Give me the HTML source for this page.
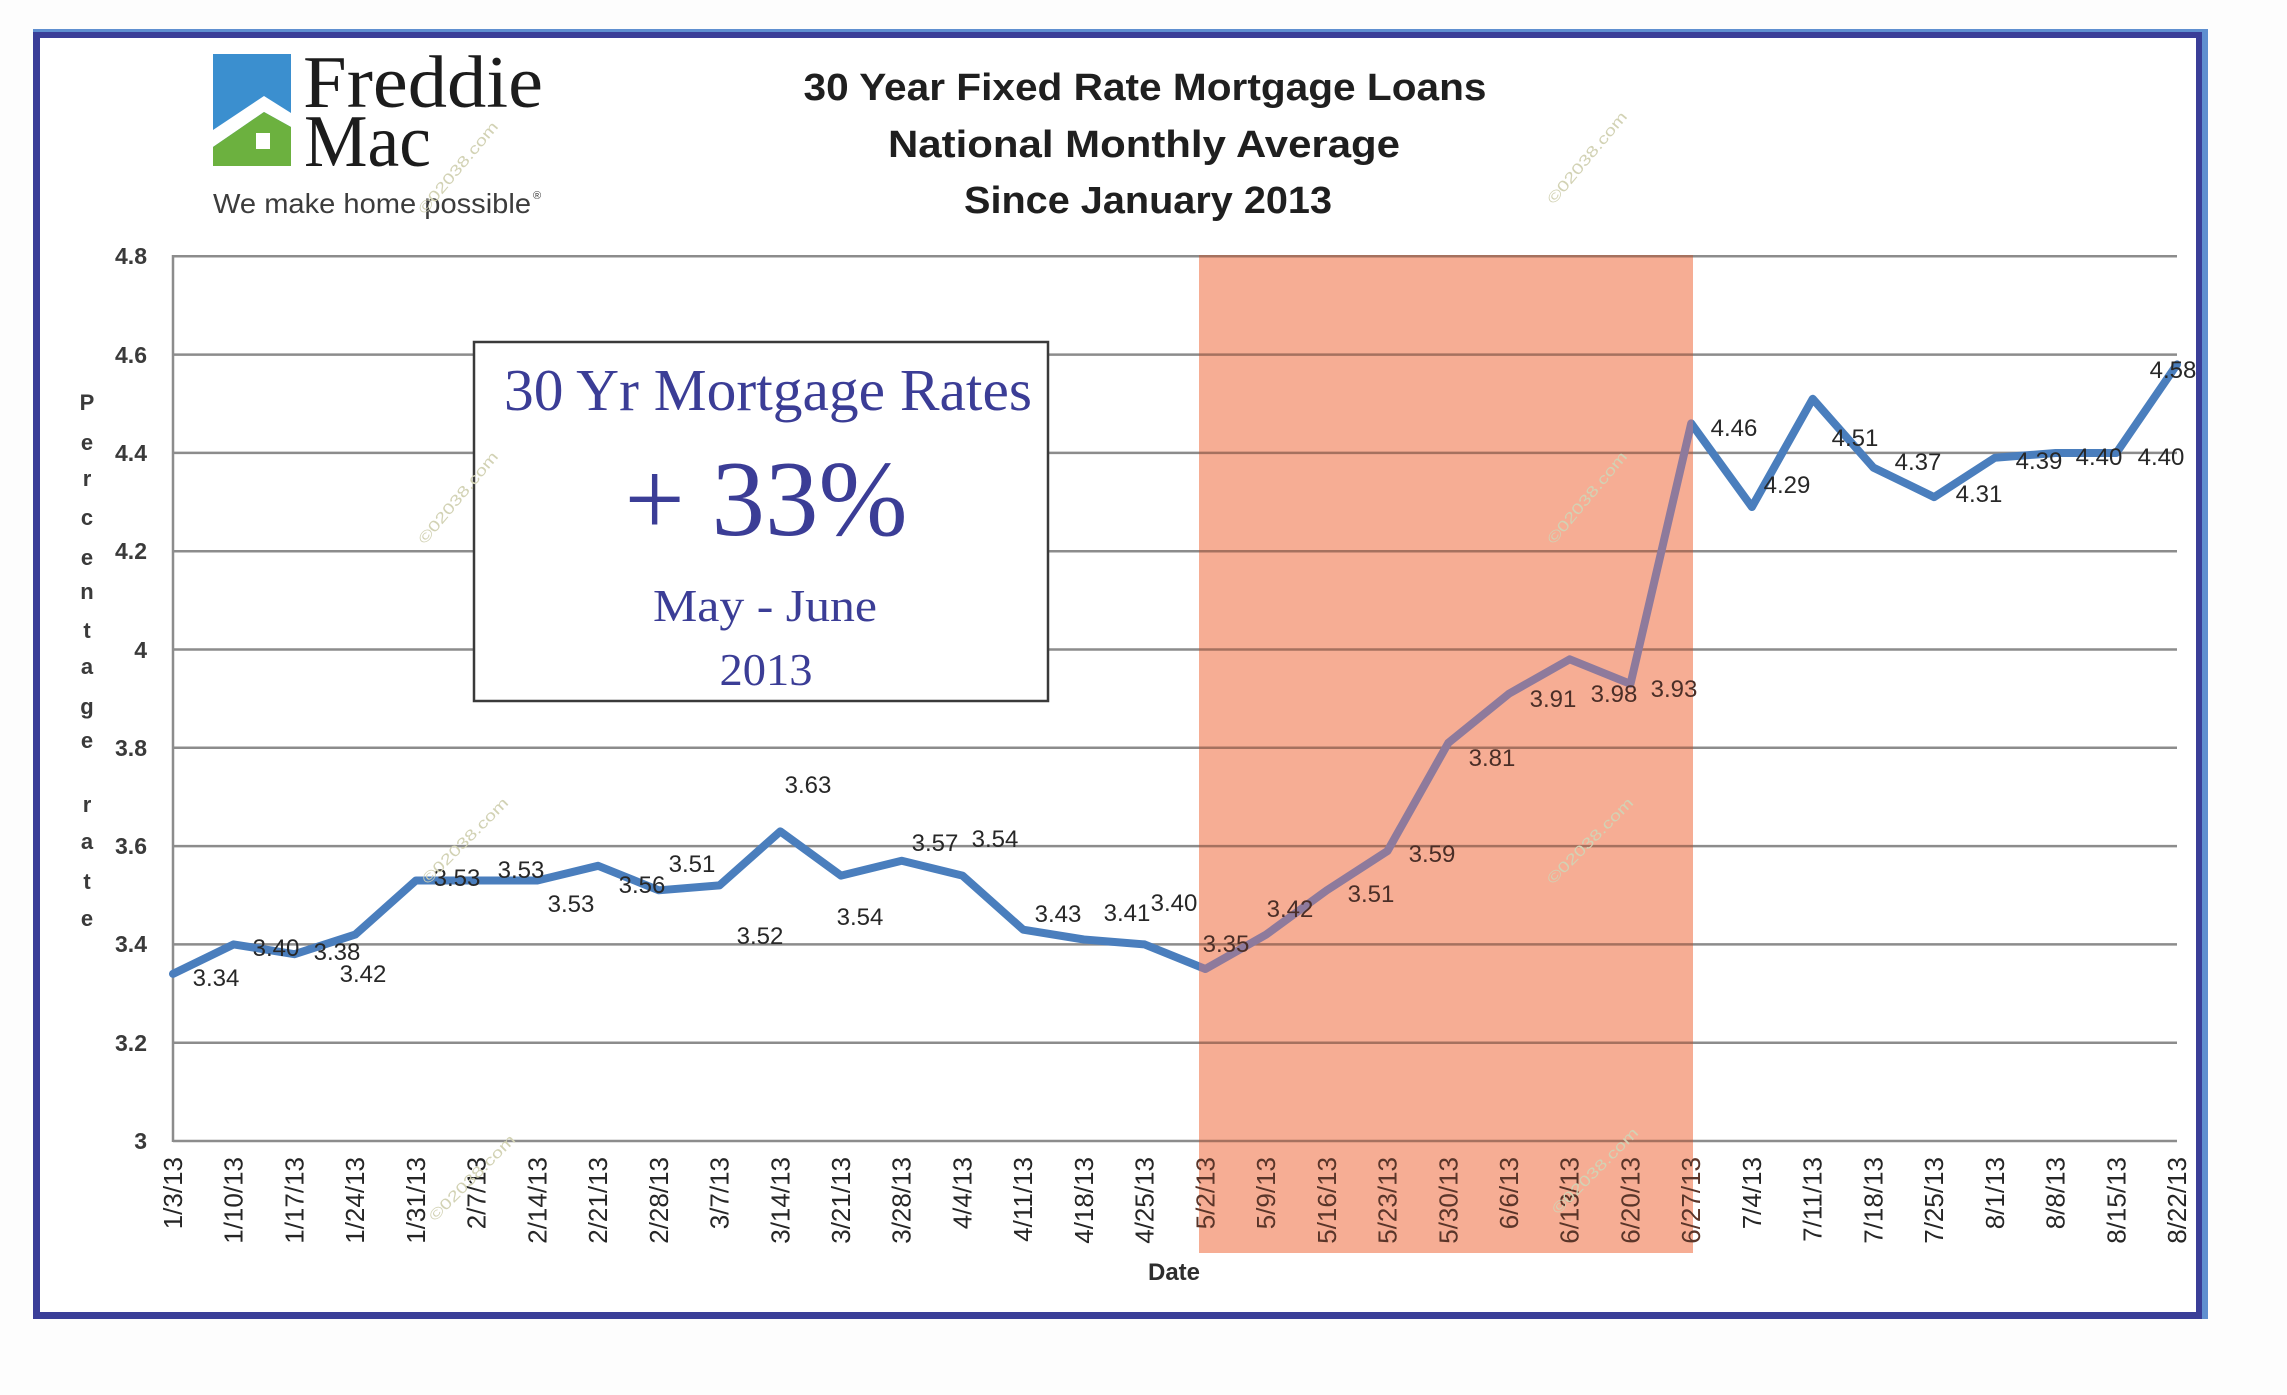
<!DOCTYPE html>
<html>
<head>
<meta charset="utf-8">
<style>
html,body{margin:0;padding:0;background:#fdfdfd;}
svg{display:block;}
text{font-family:"Liberation Sans",Arial,sans-serif;}
.serif{font-family:"Liberation Serif","Times New Roman",serif;}
.dl{font-size:24px;fill:#272727;text-anchor:middle;}
.dlo{font-size:24px;fill:#4a2e27;text-anchor:middle;}
.xl{font-size:26px;fill:#262626;text-anchor:end;}
.xlo{font-size:26px;fill:#5a3529;text-anchor:end;}
.yl{font-size:23px;font-weight:bold;fill:#3a3a3a;text-anchor:end;}
.yt{font-size:22px;font-weight:bold;fill:#3a3a3a;text-anchor:middle;}
.wm{font-size:15px;fill:#d2d2b4;}
</style>
</head>
<body>
<svg width="2287" height="1395" viewBox="0 0 2287 1395" xmlns="http://www.w3.org/2000/svg">
<defs>
<clipPath id="oc"><rect x="1199" y="255" width="494" height="998"/></clipPath>
</defs>
<rect x="0" y="0" width="2287" height="1395" fill="#fdfdfd"/>
<rect x="36" y="34" width="2164" height="1282" fill="#ffffff"/>

<!-- gridlines -->
<g stroke="#8c8c8c" stroke-width="2.5">
<line x1="173" y1="256.3" x2="2177" y2="256.3"/>
<line x1="173" y1="354.6" x2="2177" y2="354.6"/>
<line x1="173" y1="452.9" x2="2177" y2="452.9"/>
<line x1="173" y1="551.2" x2="2177" y2="551.2"/>
<line x1="173" y1="649.5" x2="2177" y2="649.5"/>
<line x1="173" y1="747.8" x2="2177" y2="747.8"/>
<line x1="173" y1="846.1" x2="2177" y2="846.1"/>
<line x1="173" y1="944.4" x2="2177" y2="944.4"/>
<line x1="173" y1="1042.7" x2="2177" y2="1042.7"/>
<line x1="173" y1="1141" x2="2177" y2="1141"/>
<line x1="173" y1="255" x2="173" y2="1142"/>
</g>

<!-- x labels (outside orange) -->
<g class="xlbl">
<text class="xl" transform="translate(182,1157) rotate(-90)">1/3/13</text>
<text class="xl" transform="translate(242.7,1157) rotate(-90)">1/10/13</text>
<text class="xl" transform="translate(303.5,1157) rotate(-90)">1/17/13</text>
<text class="xl" transform="translate(364.2,1157) rotate(-90)">1/24/13</text>
<text class="xl" transform="translate(424.9,1157) rotate(-90)">1/31/13</text>
<text class="xl" transform="translate(485.6,1157) rotate(-90)">2/7/13</text>
<text class="xl" transform="translate(546.4,1157) rotate(-90)">2/14/13</text>
<text class="xl" transform="translate(607.1,1157) rotate(-90)">2/21/13</text>
<text class="xl" transform="translate(667.8,1157) rotate(-90)">2/28/13</text>
<text class="xl" transform="translate(728.5,1157) rotate(-90)">3/7/13</text>
<text class="xl" transform="translate(789.3,1157) rotate(-90)">3/14/13</text>
<text class="xl" transform="translate(850,1157) rotate(-90)">3/21/13</text>
<text class="xl" transform="translate(910.7,1157) rotate(-90)">3/28/13</text>
<text class="xl" transform="translate(971.5,1157) rotate(-90)">4/4/13</text>
<text class="xl" transform="translate(1032.2,1157) rotate(-90)">4/11/13</text>
<text class="xl" transform="translate(1092.9,1157) rotate(-90)">4/18/13</text>
<text class="xl" transform="translate(1153.6,1157) rotate(-90)">4/25/13</text>
<text class="xl" transform="translate(1760.9,1157) rotate(-90)">7/4/13</text>
<text class="xl" transform="translate(1821.7,1157) rotate(-90)">7/11/13</text>
<text class="xl" transform="translate(1882.4,1157) rotate(-90)">7/18/13</text>
<text class="xl" transform="translate(1943.1,1157) rotate(-90)">7/25/13</text>
<text class="xl" transform="translate(2003.8,1157) rotate(-90)">8/1/13</text>
<text class="xl" transform="translate(2064.6,1157) rotate(-90)">8/8/13</text>
<text class="xl" transform="translate(2125.3,1157) rotate(-90)">8/15/13</text>
<text class="xl" transform="translate(2186,1157) rotate(-90)">8/22/13</text>
</g>

<!-- series line -->
<polyline fill="none" stroke="#4a7ebd" stroke-width="8" stroke-linejoin="round" stroke-linecap="round"
points="173,973.9 233.7,944.4 294.5,954.2 355.2,934.6 415.9,880.5 476.6,880.5 537.4,880.5 598.1,865.8 658.8,890.3 719.5,885.4 780.3,831.4 841,875.6 901.7,860.8 962.5,875.6 1023.2,929.7 1083.9,939.5 1144.6,944.4 1205.4,969 1266.1,934.6 1326.8,890.3 1387.5,851 1448.3,742.9 1509,693.7 1569.7,659.3 1630.5,683.9 1691.2,423.4 1751.9,507 1812.7,398.8 1873.4,467.6 1934.1,497.1 1994.8,457.8 2055.6,453 2116.3,453 2177,364.4"/>

<!-- data labels outside orange -->
<text class="dl" x="216" y="986">3.34</text>
<text class="dl" x="276" y="956">3.40</text>
<text class="dl" x="337" y="960">3.38</text>
<text class="dl" x="363" y="982">3.42</text>
<text class="dl" x="457" y="886">3.53</text>
<text class="dl" x="521" y="878">3.53</text>
<text class="dl" x="571" y="912">3.53</text>
<text class="dl" x="642" y="893">3.56</text>
<text class="dl" x="692" y="872">3.51</text>
<text class="dl" x="760" y="944">3.52</text>
<text class="dl" x="808" y="793">3.63</text>
<text class="dl" x="860" y="925">3.54</text>
<text class="dl" x="935" y="851">3.57</text>
<text class="dl" x="995" y="847">3.54</text>
<text class="dl" x="1058" y="922">3.43</text>
<text class="dl" x="1127" y="921">3.41</text>
<text class="dl" x="1174" y="911">3.40</text>
<text class="dl" x="1734" y="436">4.46</text>
<text class="dl" x="1787" y="493">4.29</text>
<text class="dl" x="1855" y="446">4.51</text>
<text class="dl" x="1918" y="470">4.37</text>
<text class="dl" x="1979" y="502">4.31</text>
<text class="dl" x="2039" y="469">4.39</text>
<text class="dl" x="2099" y="465">4.40</text>
<text class="dl" x="2161" y="465">4.40</text>
<text class="dl" x="2173" y="378">4.58</text>

<!-- orange highlight -->
<rect x="1199" y="255" width="494" height="998" fill="#f6ad94"/>
<g clip-path="url(#oc)">
<g stroke="#a5715f" stroke-width="2.5">
<line x1="1190" y1="256.3" x2="1700" y2="256.3"/>
<line x1="1190" y1="354.6" x2="1700" y2="354.6"/>
<line x1="1190" y1="452.9" x2="1700" y2="452.9"/>
<line x1="1190" y1="551.2" x2="1700" y2="551.2"/>
<line x1="1190" y1="649.5" x2="1700" y2="649.5"/>
<line x1="1190" y1="747.8" x2="1700" y2="747.8"/>
<line x1="1190" y1="846.1" x2="1700" y2="846.1"/>
<line x1="1190" y1="944.4" x2="1700" y2="944.4"/>
<line x1="1190" y1="1042.7" x2="1700" y2="1042.7"/>
<line x1="1190" y1="1141" x2="1700" y2="1141"/>
</g>
<polyline fill="none" stroke="#8e7a9c" stroke-width="8" stroke-linejoin="round" stroke-linecap="round"
points="1144.6,944.4 1205.4,969 1266.1,934.6 1326.8,890.3 1387.5,851 1448.3,742.9 1509,693.7 1569.7,659.3 1630.5,683.9 1691.2,423.4 1751.9,507"/>
</g>
<text class="xlo" transform="translate(1214.4,1157) rotate(-90)">5/2/13</text>
<text class="xlo" transform="translate(1275.1,1157) rotate(-90)">5/9/13</text>
<text class="xlo" transform="translate(1335.8,1157) rotate(-90)">5/16/13</text>
<text class="xlo" transform="translate(1396.5,1157) rotate(-90)">5/23/13</text>
<text class="xlo" transform="translate(1457.3,1157) rotate(-90)">5/30/13</text>
<text class="xlo" transform="translate(1518,1157) rotate(-90)">6/6/13</text>
<text class="xlo" transform="translate(1578.7,1157) rotate(-90)">6/13/13</text>
<text class="xlo" transform="translate(1639.5,1157) rotate(-90)">6/20/13</text>
<text class="xlo" transform="translate(1700.2,1157) rotate(-90)">6/27/13</text>
<text class="dlo" x="1226" y="952">3.35</text>
<text class="dlo" x="1290" y="917">3.42</text>
<text class="dlo" x="1371" y="902">3.51</text>
<text class="dlo" x="1432" y="862">3.59</text>
<text class="dlo" x="1492" y="766">3.81</text>
<text class="dlo" x="1553" y="707">3.91</text>
<text class="dlo" x="1614" y="702">3.98</text>
<text class="dlo" x="1674" y="697">3.93</text>

<!-- y axis labels -->
<text class="yl" x="147" y="264">4.8</text>
<text class="yl" x="147" y="363">4.6</text>
<text class="yl" x="147" y="461">4.4</text>
<text class="yl" x="147" y="559">4.2</text>
<text class="yl" x="147" y="658">4</text>
<text class="yl" x="147" y="756">3.8</text>
<text class="yl" x="147" y="854">3.6</text>
<text class="yl" x="147" y="952">3.4</text>
<text class="yl" x="147" y="1051">3.2</text>
<text class="yl" x="147" y="1149">3</text>

<!-- y axis title -->
<text class="yt" x="87" y="410">P</text>
<text class="yt" x="87" y="450">e</text>
<text class="yt" x="87" y="486">r</text>
<text class="yt" x="87" y="525">c</text>
<text class="yt" x="87" y="565">e</text>
<text class="yt" x="87" y="599">n</text>
<text class="yt" x="87" y="638">t</text>
<text class="yt" x="87" y="674">a</text>
<text class="yt" x="87" y="714">g</text>
<text class="yt" x="87" y="748">e</text>
<text class="yt" x="87" y="812">r</text>
<text class="yt" x="87" y="849">a</text>
<text class="yt" x="87" y="889">t</text>
<text class="yt" x="87" y="926">e</text>

<!-- x axis title -->
<text x="1174" y="1280" font-size="24" font-weight="bold" fill="#2e2e2e" text-anchor="middle">Date</text>

<!-- callout box -->
<rect x="474" y="342" width="574" height="359" fill="#ffffff" stroke="#3a3a3a" stroke-width="2.5"/>
<text class="serif" x="768" y="410" font-size="59" fill="#3b3d96" text-anchor="middle" textLength="528" lengthAdjust="spacingAndGlyphs">30 Yr Mortgage Rates</text>
<text class="serif" x="766" y="535" font-size="108" fill="#3b3d96" text-anchor="middle" textLength="283" lengthAdjust="spacingAndGlyphs">+ 33%</text>
<text class="serif" x="765" y="621" font-size="46" fill="#3b3d96" text-anchor="middle" textLength="224" lengthAdjust="spacingAndGlyphs">May - June</text>
<text class="serif" x="766" y="685" font-size="46" fill="#3b3d96" text-anchor="middle" textLength="93" lengthAdjust="spacingAndGlyphs">2013</text>

<!-- chart title -->
<text x="1145" y="100" font-size="38" font-weight="bold" fill="#1f1f1f" text-anchor="middle" textLength="683" lengthAdjust="spacingAndGlyphs">30 Year Fixed Rate Mortgage Loans</text>
<text x="1144" y="157" font-size="38" font-weight="bold" fill="#1f1f1f" text-anchor="middle" textLength="512" lengthAdjust="spacingAndGlyphs">National Monthly Average</text>
<text x="1148" y="213" font-size="38" font-weight="bold" fill="#1f1f1f" text-anchor="middle" textLength="368" lengthAdjust="spacingAndGlyphs">Since January 2013</text>

<!-- logo -->
<rect x="213" y="54" width="78" height="112" fill="#3b8fcf"/>
<polygon points="213,130 264,96 291,113 291,127 264,112 213,147" fill="#ffffff"/>
<polygon points="213,147 264,112 291,127 291,166 213,166" fill="#6cb13f"/>
<rect x="256" y="133" width="14" height="16" fill="#ffffff"/>
<text class="serif" x="303" y="107" font-size="74" fill="#1c1c1c" textLength="240" lengthAdjust="spacingAndGlyphs">Freddie</text>
<text class="serif" x="304" y="166" font-size="74" fill="#1c1c1c" textLength="127" lengthAdjust="spacingAndGlyphs">Mac</text>
<text x="213" y="213" font-size="28" fill="#3c3c3c" textLength="318" lengthAdjust="spacingAndGlyphs">We make home possible</text>
<text x="533" y="199" font-size="11" fill="#3c3c3c">®</text>

<!-- watermarks -->
<g class="wm">
<text transform="translate(425,215) rotate(-50)" textLength="115" lengthAdjust="spacingAndGlyphs">©02038.com</text>
<text transform="translate(425,545) rotate(-50)" textLength="115" lengthAdjust="spacingAndGlyphs">©02038.com</text>
<text transform="translate(428,885) rotate(-45)" textLength="115" lengthAdjust="spacingAndGlyphs">©02038.com</text>
<text transform="translate(435,1222) rotate(-45)" textLength="115" lengthAdjust="spacingAndGlyphs">©02038.com</text>
<text transform="translate(1554,205) rotate(-50)" textLength="115" lengthAdjust="spacingAndGlyphs">©02038.com</text>
<text transform="translate(1554,545) rotate(-50)" textLength="115" lengthAdjust="spacingAndGlyphs">©02038.com</text>
<text transform="translate(1553,885) rotate(-45)" textLength="115" lengthAdjust="spacingAndGlyphs">©02038.com</text>
<text transform="translate(1558,1215) rotate(-45)" textLength="115" lengthAdjust="spacingAndGlyphs">©02038.com</text>
</g>

<!-- frame -->
<rect x="36.5" y="34.5" width="2163" height="1281" fill="none" stroke="#3a3e98" stroke-width="7"/>
<rect x="33" y="29" width="2172" height="3" fill="#5f8fd0"/>
<rect x="2202" y="29" width="6" height="1290" fill="#5f8fd0"/>
</svg>
</body>
</html>
